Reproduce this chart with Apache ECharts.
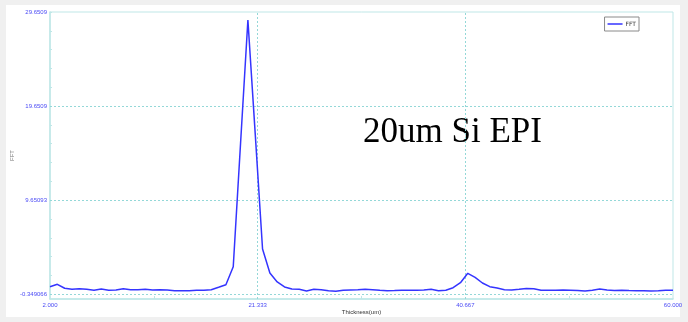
<!DOCTYPE html>
<html>
<head>
<meta charset="utf-8">
<script src="https://cdn.jsdelivr.net/npm/echarts@6/dist/echarts.min.js"></script>
<style>
  html, body { margin: 0; padding: 0; width: 688px; height: 322px; background: #f0f0f0; overflow: hidden; }
  #panel { position: absolute; left: 6px; top: 5px; width: 674px; height: 312px; background: #ffffff; }
  #chart { position: absolute; left: 0; top: 0; width: 688px; height: 322px; }
</style>
</head>
<body>
<div id="panel"></div>
<div id="chart"></div>
<script>
// Thickness (um) sample positions
const thickness = [
  2.000, 2.682, 3.365, 4.047, 4.729, 5.412, 6.094, 6.776, 7.459, 8.141,
  8.824, 9.506, 10.188, 10.871, 11.553, 12.235, 12.918, 13.600, 14.282, 14.965,
  15.647, 16.329, 17.012, 17.694, 18.376, 19.059, 19.741, 20.424, 21.106, 21.788,
  22.471, 23.153, 23.835, 24.518, 25.200, 25.882, 26.565, 27.247, 27.929, 28.612,
  29.294, 29.976, 30.659, 31.341, 32.024, 32.706, 33.388, 34.071, 34.753, 35.435,
  36.118, 36.800, 37.482, 38.165, 38.847, 39.529, 40.212, 40.894, 41.576, 42.259,
  42.941, 43.624, 44.306, 44.988, 45.671, 46.353, 47.035, 47.718, 48.400, 49.082,
  49.765, 50.447, 51.129, 51.812, 52.494, 53.176, 53.859, 54.541, 55.224, 55.906,
  56.588, 57.271, 57.953, 58.635, 59.318, 60.000
];
// FFT amplitude
const fft = [
  0.46, 0.71, 0.29, 0.18, 0.25, 0.18, 0.08, 0.21, 0.08, 0.11,
  0.25, 0.14, 0.14, 0.18, 0.11, 0.14, 0.11, 0.03, 0.03, 0.03,
  0.08, 0.08, 0.14, 0.40, 0.67, 2.58, 15.7, 28.8, 16.7, 4.47,
  1.92, 0.96, 0.43, 0.21, 0.18, 0.00, 0.18, 0.14, 0.03, -0.03,
  0.08, 0.11, 0.14, 0.18, 0.14, 0.08, 0.03, 0.05, 0.08, 0.08,
  0.08, 0.11, 0.18, 0.03, 0.08, 0.35, 0.88, 1.88, 1.44, 0.85,
  0.46, 0.32, 0.14, 0.11, 0.18, 0.27, 0.25, 0.08, 0.08, 0.08,
  0.11, 0.08, 0.05, 0.00, 0.08, 0.21, 0.11, 0.05, 0.08, 0.05,
  0.03, 0.03, 0.00, 0.03, 0.08, 0.08
];
// Tick values and labels
const xTickValues = [2, 21.333, 40.667, 60];
const xTickLabels = ['2.000', '21.333', '40.667', '60.000'];
const xMinorTicks = [11.667, 31.0, 50.333];
const yTickValues = [-0.349066, 9.65093, 19.6509, 29.6509];
const yTickLabels = ['-0.349066', '9.65093', '19.6509', '29.6509'];
const yMinorTicks = [-0.349066, 1.650934, 3.650934, 5.650934, 7.650934, 9.65093, 11.65093, 13.65093,
  15.65093, 17.65093, 19.6509, 21.6509, 23.6509, 25.6509, 27.6509, 29.6509];
const yMin = -0.849066, yMax = 29.6509;
const xMin = 2, xMax = 60;

function nearestLabel(vals, labels, v) {
  let best = 0;
  for (let i = 1; i < vals.length; i++) if (Math.abs(vals[i] - v) < Math.abs(vals[best] - v)) best = i;
  return labels[best];
}

const axisCol = '#bfe7e7';
const gridCol = '#94d8d8';
const labelCol = '#4a4af5';

const chart = echarts.init(document.getElementById('chart'), null, { renderer: 'canvas' });
const points = thickness.map((t, i) => [t, fft[i]]);

chart.setOption({
  animation: false,
  backgroundColor: 'transparent',
  grid: { left: 50, top: 12, right: 15, bottom: 23, containLabel: false, outerBoundsMode: 'none',
    show: true, borderColor: axisCol, borderWidth: 1, backgroundColor: 'transparent' },
  legend: {
    right: 49, top: 17, orient: 'vertical',
    data: ['FFT'],
    icon: 'rect', itemWidth: 15, itemHeight: 1.5, itemGap: 2,
    padding: [4, 3, 4, 3],
    borderColor: '#8a8a8a', borderWidth: 1,
    textStyle: { fontSize: 6, color: '#333', fontFamily: 'DejaVu Sans', padding: [0, 0, 0, -2] }
  },
  xAxis: {
    type: 'value', min: xMin, max: xMax,
    name: 'Thickness(um)', nameLocation: 'middle', nameGap: 10, nameMoveOverlap: false,
    nameTextStyle: { fontSize: 6, color: '#333', fontFamily: 'Liberation Sans' },
    axisLine: { show: true, onZero: false, lineStyle: { color: axisCol, width: 1.5 } },
    axisTick: { show: true, inside: true, length: 3, customValues: xMinorTicks, lineStyle: { color: axisCol } },
    axisLabel: { customValues: xTickValues, margin: 3, fontSize: 6, color: labelCol, fontFamily: 'Liberation Sans',
      formatter: v => nearestLabel(xTickValues, xTickLabels, v) },
    splitLine: { show: false }
  },
  yAxis: {
    type: 'value', min: yMin, max: yMax,
    name: 'FFT', nameLocation: 'middle', nameGap: 35, nameRotate: 90, nameMoveOverlap: false,
    nameTextStyle: { fontSize: 6, color: '#777', fontFamily: 'Liberation Sans' },
    axisLine: { show: true, onZero: false, lineStyle: { color: axisCol, width: 1.5 } },
    axisTick: { show: true, inside: true, length: 2, customValues: yMinorTicks, lineStyle: { color: axisCol } },
    axisLabel: { customValues: yTickValues, margin: 3, fontSize: 6, color: labelCol, fontFamily: 'Liberation Sans',
      formatter: v => nearestLabel(yTickValues, yTickLabels, v) },
    splitLine: { show: false }
  },
  graphic: [{
    type: 'text', left: 363, top: 115,
    style: { text: '20um Si EPI', font: '35px "Liberation Serif", "Times New Roman", serif', fill: '#000' },
    z: 1
  }],
  series: [{
    name: 'FFT', type: 'line', data: points,
    symbol: 'none', showSymbol: false,
    lineStyle: { color: '#3434ff', width: 1.5 },
    itemStyle: { color: '#3434ff' },
    z: 3,
    markLine: {
      silent: true, symbol: 'none', animation: false, z: 1,
      label: { show: false },
      lineStyle: { color: gridCol, type: [2, 2], width: 1 },
      emphasis: { disabled: true },
      data: [
        { xAxis: xTickValues[1] }, { xAxis: xTickValues[2] },
        { yAxis: yTickValues[0] }, { yAxis: yTickValues[1] }, { yAxis: yTickValues[2] }
      ]
    }
  }]
});
</script>
</body>
</html>
